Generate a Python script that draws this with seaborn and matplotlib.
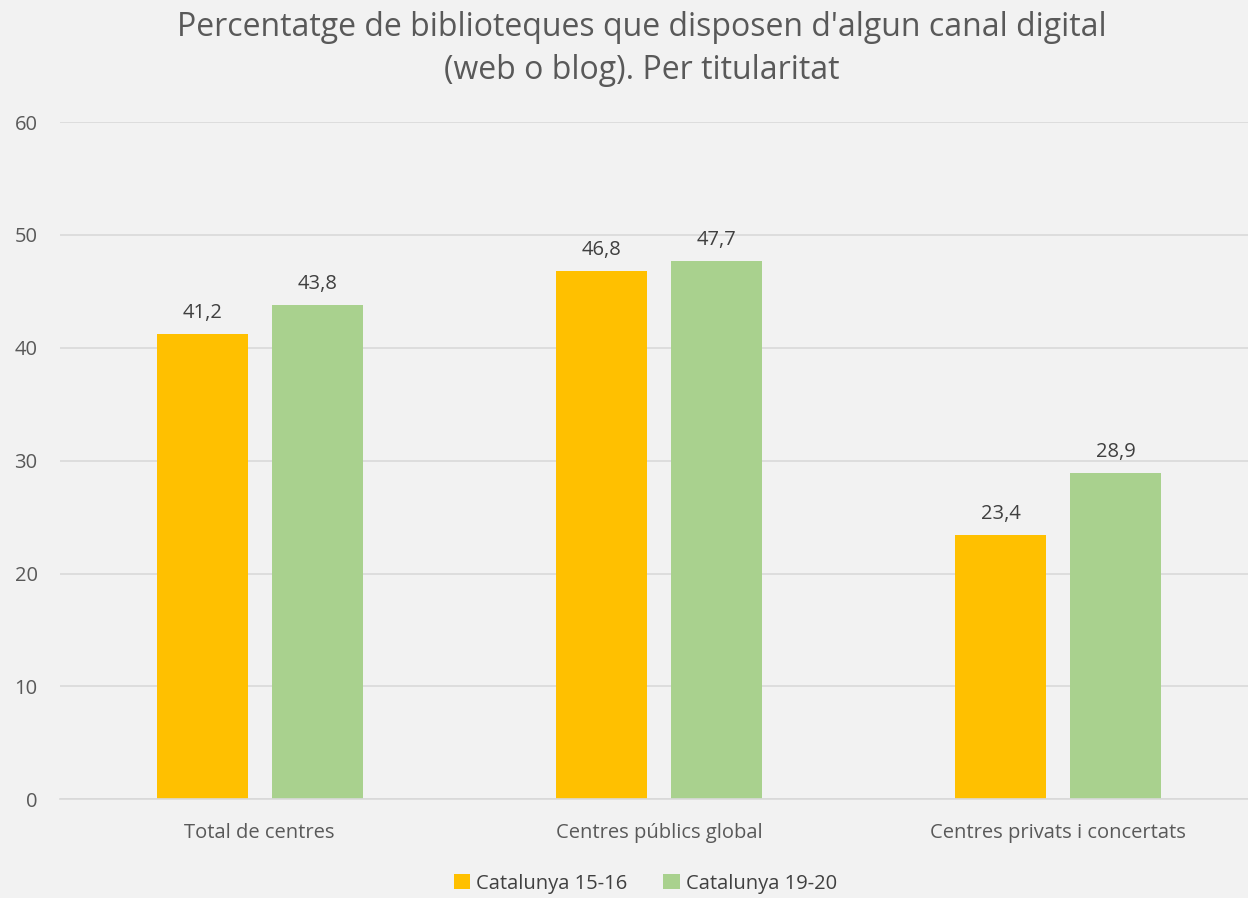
import matplotlib
matplotlib.use("Agg")
import matplotlib.pyplot as plt
import seaborn as sns
import pandas as pd
from matplotlib.patches import Patch

categories = ["Total de centres", "Centres públics global", "Centres privats i concertats"]
series_names = ["Catalunya 15-16", "Catalunya 19-20"]
values_1516 = [41.2, 46.8, 23.4]
values_1920 = [43.8, 47.7, 28.9]
y_ticks = [0, 10, 20, 30, 40, 50, 60]
title = "Percentatge de biblioteques que disposen d'algun canal digital\n(web o blog). Per titularitat"

colors = ["#FFC000", "#A9D18E"]
bg = "#F2F2F2"
txt = "#595959"

df = pd.DataFrame({
    "cat": categories * 2,
    "serie": [series_names[0]] * 3 + [series_names[1]] * 3,
    "val": values_1516 + values_1920,
})

sns.set_theme(style="white")
plt.rcParams["font.family"] = ["Open Sans", "DejaVu Sans"]

fig = plt.figure(figsize=(12.48, 8.98), dpi=100, facecolor=bg)
ax = fig.add_axes([0.048, 0.110, 0.960, 0.754])
ax.set_facecolor(bg)

sns.barplot(data=df, x="cat", y="val", hue="serie", palette=colors,
            width=0.576, gap=0.21, ax=ax, legend=False, saturation=1, linewidth=0)

for cont in ax.containers:
    ax.bar_label(cont, labels=[f"{v:.1f}".replace(".", ",") for v in cont.datavalues],
                 padding=8, fontsize=14.5, color="#404040")

ax.set_ylim(0, 60)
ax.set_xlim(-0.5, 2.5)
ax.set_yticks(y_ticks)
ax.set_yticklabels([str(t) for t in y_ticks], fontsize=14.5, color=txt)
ax.tick_params(axis="x", labelsize=14.5, colors=txt, length=0, pad=17)
ax.tick_params(axis="y", length=0, pad=16)
for lbl in ax.get_yticklabels():
    lbl.set_horizontalalignment("right")
ax.yaxis.grid(True, color="#D9D9D9", lw=1.2)
ax.set_axisbelow(True)
for s in ["top", "right", "left"]:
    ax.spines[s].set_visible(False)
ax.spines["bottom"].set_color("#D9D9D9")
ax.spines["bottom"].set_linewidth(1.2)
ax.set_xlabel("")
ax.set_ylabel("")

fig.text(0.514, 0.945, title, ha="center", va="center", fontsize=23, color=txt, linespacing=1.4)

handles = [Patch(facecolor=c, edgecolor="none") for c in colors]
fig.legend(handles, series_names, loc="center", bbox_to_anchor=(0.517, 0.016), ncol=2,
           frameon=False, fontsize=14.5, handlelength=0.8, handleheight=0.8,
           handletextpad=0.3, columnspacing=1.8, labelcolor="#404040")

fig.savefig("out.png", dpi=100, facecolor=bg)
